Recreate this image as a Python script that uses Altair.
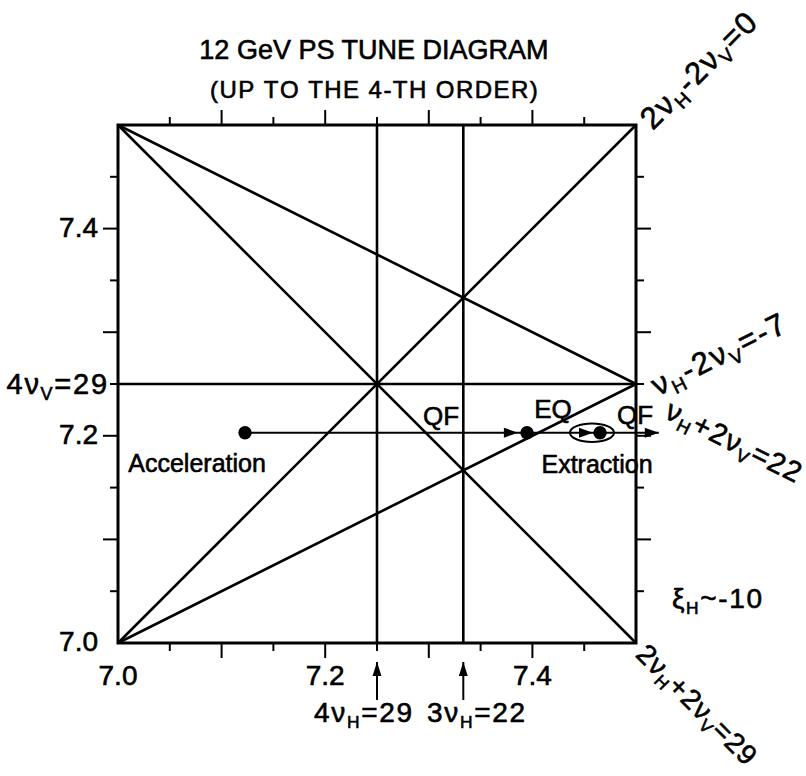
import math
import altair as alt
import pandas as pd

FONT = "Liberation Sans"
INK = 0.6   # extra stroke on lettering

# Tune range shown on both axes
NU_LO, NU_HI = 7.0, 7.5

# Resonance lines up to 4th order: start and end tunes (nuH, nuV)
res_name = ["2νH-2νV=0", "2νH+2νV=29", "νH+2νV=22", "νH-2νV=-7", "4νH=29", "3νH=22", "4νV=29"]
res_h1 = [7.0, 7.0, 7.0, 7.0, 7.25, 7.3333, 7.0]
res_v1 = [7.0, 7.5, 7.5, 7.0, 7.0, 7.0, 7.25]
res_h2 = [7.5, 7.5, 7.5, 7.5, 7.25, 7.3333, 7.5]
res_v2 = [7.5, 7.0, 7.25, 7.25, 7.5, 7.5, 7.25]

# Axis ticks
major_ticks = [7.1, 7.2, 7.3, 7.4]
minor_ticks = [7.05, 7.15, 7.25, 7.35, 7.45]
bottom_labels = [7.0, 7.2, 7.4]
left_labels = [7.0, 7.2, 7.4]

# Working points: acceleration, after QF, extraction (nuH, nuV)
wp_name = ["Acceleration", "EQ", "Extraction"]
wp_h = [7.1226, 7.3948, 7.4653]
wp_v = [7.203, 7.203, 7.203]

# Tune path with arrowheads
path_start, path_end = 7.1226, 7.522
arrow_tips = [7.386, 7.4585, 7.522]

# Ellipse marking the extraction point
ellipse_h, ellipse_v = 7.4575, 7.203

# Plain annotations: text, nuH, nuV (centre), font size
ann_text = ["12 GeV PS TUNE DIAGRAM", "QF", "EQ", "QF", "Acceleration", "Extraction"]
ann_h = [7.247, 7.3118, 7.4199, 7.499, 7.0763, 7.4624]
ann_v = [7.5714, 7.2181, 7.2249, 7.2191, 7.1728, 7.1718]
ann_size = [27, 26, 26, 26, 25, 25]

# Spaced labels, resonance labels with subscripts ("_X" = subscript X):
# centre (or right edge), angle, font size, letter spacing (x font size)
rich_text = ["(UP TO THE 4-TH ORDER)",
             "2ν_H-2ν_V=0", "ν_H-2ν_V=-7", "ν_H+2ν_V=22", "2ν_H+2ν_V=29",
             "ξ_H~-10", "4ν_H=29", "3ν_H=22", "4ν_V=29"]
rich_h = [7.247, 7.5598, 7.5792, 7.5946, 7.5590, 7.5782, 7.2365, 7.3456, 6.9894]
rich_v = [7.5347, 7.5531, 7.2790, 7.1950, 6.9410, 7.0434, 6.9334, 6.9334, 7.25]
rich_angle = [0, 315, 333.43, 26.57, 45, 0, 0, 0, 0]
rich_size = [24, 31, 31, 29, 28, 28, 28, 28, 29]
rich_track = [0.06, 0.05, 0.06, 0.05, 0.04, 0.06, 0.06, 0.06, 0.06]
rich_align = ["center"] * 8 + ["right"]

W = H = 518
PX = W / (NU_HI - NU_LO)          # pixels per unit of tune
CAP = 0.716                        # cap height / font size
SUB, SUB_DROP = 0.62, 0.2          # subscript scale and drop (x font size)
GLYPH = {**{d: 0.556 for d in "0123456789"}, ".": 0.278, "=": 0.584, "+": 0.584,
         "-": 0.333, "~": 0.584, "ν": 0.5, "ξ": 0.446, " ": 0.278, "(": 0.333, ")": 0.333,
         "D": 0.722, "E": 0.667, "H": 0.722, "O": 0.778, "P": 0.667, "R": 0.722,
         "T": 0.611, "U": 0.722, "V": 0.667}

xs = alt.Scale(domain=[NU_LO, NU_HI], nice=False, zero=False)
ys = alt.Scale(domain=[NU_LO, NU_HI], nice=False, zero=False)


def X(f):
    return alt.X(f, type="quantitative", scale=xs, axis=None)


def Y(f):
    return alt.Y(f, type="quantitative", scale=ys, axis=None)


def split_chars(markup):
    out, i = [], 0
    while i < len(markup):
        if markup[i] == "_":
            out.append((markup[i + 1], True))
            i += 2
        else:
            out.append((markup[i], False))
            i += 1
    return out


def rich_rows(markup, h, v, angle, size, track, align):
    chars = split_chars(markup)
    widths = [GLYPH[c] * size * (SUB if s else 1) + track * size for c, s in chars]
    total = sum(widths) - track * size
    th = math.radians(angle)
    ux, uy = math.cos(th), math.sin(th)
    nx, ny = -math.sin(th), math.cos(th)
    cx, cy = (h - NU_LO) * PX, (NU_HI - v) * PX
    bx, by = cx + nx * CAP * size / 2, cy + ny * CAP * size / 2
    adv = -total / 2 if align == "center" else -total
    rows = []
    for (c, s), w in zip(chars, widths):
        drop = SUB_DROP * size if s else 0
        px, py = bx + ux * adv + nx * drop, by + uy * adv + ny * drop
        if c != " ":
            rows.append({"text": c, "h": NU_LO + px / PX, "v": NU_HI - py / PX,
                         "angle": angle, "size": size * (SUB if s else 1)})
        adv += w
    return rows


res_df = pd.DataFrame({"name": res_name, "h1": res_h1, "v1": res_v1, "h2": res_h2, "v2": res_v2})
resonances = alt.Chart(res_df).mark_rule(color="black", strokeWidth=2.6).encode(
    x=X("h1"), y=Y("v1"), x2="h2", y2="v2")


def ticks(values, length):
    df = pd.DataFrame({"t": values, "lo": [NU_LO] * len(values), "hi": [NU_HI] * len(values)})
    b = alt.Chart(df)
    bottom = b.mark_rule(color="black", strokeWidth=2, y2Offset=length).encode(
        x=X("t"), y=Y("lo"), y2="lo")
    top = b.mark_rule(color="black", strokeWidth=2, y2Offset=-length).encode(
        x=X("t"), y=Y("hi"), y2="hi")
    left = b.mark_rule(color="black", strokeWidth=2, x2Offset=-length).encode(
        y=Y("t"), x=X("lo"), x2="lo")
    right = b.mark_rule(color="black", strokeWidth=2, x2Offset=length).encode(
        y=Y("t"), x=X("hi"), x2="hi")
    return [bottom, top, left, right]


tick_layers = ticks(major_ticks, 15) + ticks(minor_ticks, 8)

bl_df = pd.DataFrame({"t": bottom_labels, "lab": ["7.0", "7.2", "7.4"], "lo": [NU_LO] * 3})
bottom_text = alt.Chart(bl_df).mark_text(
    font=FONT, fontSize=28, baseline="middle", align="center", dy=34,
    stroke="black", strokeWidth=INK).encode(
    x=X("t"), y=Y("lo"), text="lab")

ll_df = pd.DataFrame({"t": left_labels, "lab": ["7.0", "7.2", "7.4"], "lo": [NU_LO] * 3})
left_text = alt.Chart(ll_df).mark_text(
    font=FONT, fontSize=28, baseline="middle", align="right", dx=-20,
    stroke="black", strokeWidth=INK).encode(
    y=Y("t"), x=X("lo"), text="lab")

# Vertical arrows below the axis pointing at 4nuH=29 and 3nuH=22
varr_df = pd.DataFrame({"h": [7.25, 7.3333], "v1": [6.945, 6.945], "v2": [6.9817, 6.9817]})
varr_shaft = alt.Chart(varr_df).mark_rule(color="black", strokeWidth=2).encode(
    x=X("h"), y=Y("v1"), y2="v2")
varr_head = alt.Chart(varr_df).mark_point(
    shape="M0,0 L0.32,1 L-0.32,1 Z", size=784, filled=True, color="black", opacity=1).encode(
    x=X("h"), y=Y("v2"))

path_df = pd.DataFrame({"h1": [path_start], "h2": [path_end], "v": [7.203]})
path = alt.Chart(path_df).mark_rule(color="black", strokeWidth=2).encode(
    x=X("h1"), x2="h2", y=Y("v"))
heads_df = pd.DataFrame({"h": arrow_tips, "v": [7.203] * 3})
heads = alt.Chart(heads_df).mark_point(
    shape="M0,0 L-1,-0.36 L-1,0.36 Z", size=784, filled=True, color="black", opacity=1).encode(
    x=X("h"), y=Y("v"))

wp_df = pd.DataFrame({"name": wp_name, "h": wp_h, "v": wp_v})
dots = alt.Chart(wp_df).mark_point(shape="circle", size=180, filled=True, color="black", opacity=1).encode(
    x=X("h"), y=Y("v"))

ell_df = pd.DataFrame({"h": [ellipse_h], "v": [ellipse_v]})
ellipse = alt.Chart(ell_df).mark_point(
    shape="M-1,0 A1,0.42 0 1,0 1,0 A1,0.42 0 1,0 -1,0 Z", size=1936, filled=False,
    color="black", strokeWidth=2, opacity=1).encode(x=X("h"), y=Y("v"))

ann_df = pd.DataFrame({"text": ann_text, "h": ann_h, "v": ann_v, "size": ann_size})
annotations = alt.Chart(ann_df).mark_text(
    font=FONT, baseline="middle", align="center", color="black",
    stroke="black", strokeWidth=INK).encode(
    x=X("h"), y=Y("v"), text="text", size=alt.Size("size:Q", scale=None))

rich_df = pd.DataFrame([r for args in zip(rich_text, rich_h, rich_v, rich_angle, rich_size,
                                          rich_track, rich_align)
                        for r in rich_rows(*args)])
rich_labels = alt.Chart(rich_df).mark_text(
    font=FONT, baseline="alphabetic", align="left", color="black",
    stroke="black", strokeWidth=INK).encode(
    x=X("h"), y=Y("v"), text="text",
    angle=alt.Angle("angle:Q", scale=None),
    size=alt.Size("size:Q", scale=None))

chart = alt.layer(
    resonances, *tick_layers, bottom_text, left_text, varr_shaft, varr_head,
    path, heads, dots, ellipse, annotations, rich_labels
).properties(
    width=W, height=H,
    autosize=alt.AutoSizeParams(type="none"),
    padding={"left": 118, "top": 125, "right": 170, "bottom": 133},
    background="white",
).configure_view(stroke="black", strokeWidth=3)

chart.save("out.html", embed_options={"renderer": "svg", "actions": False})
